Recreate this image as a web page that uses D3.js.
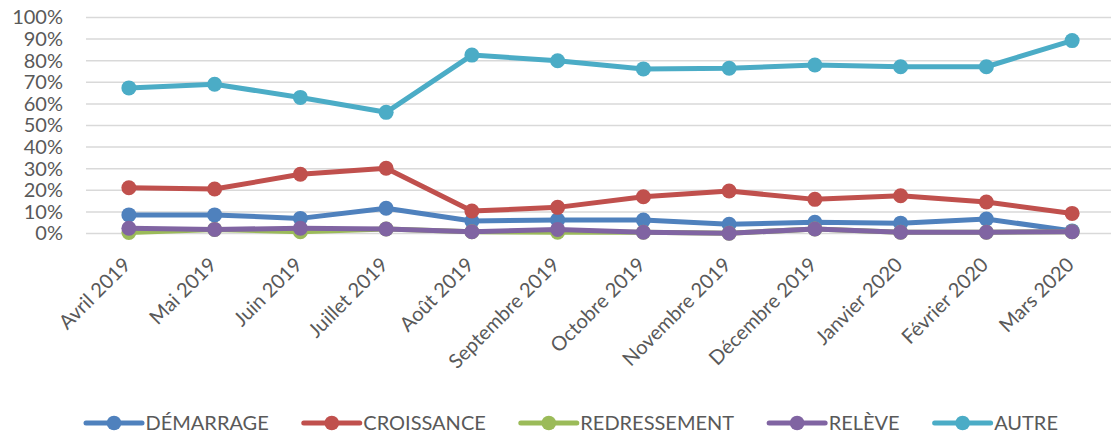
<!DOCTYPE html>
<meta charset="utf-8">
<style>
  body { margin: 0; background: #fff; }
  text { font-family: Lato, "Open Sans", sans-serif; fill: #595959; }
</style>
<body>
<script src="https://d3js.org/d3.v7.min.js"></script>
<script>
    var width = 1111,
        height = 438;

    var months = ["Avril 2019", "Mai 2019", "Juin 2019", "Juillet 2019", "Août 2019", "Septembre 2019",
        "Octobre 2019", "Novembre 2019", "Décembre 2019", "Janvier 2020", "Février 2020", "Mars 2020"];

    var yTicks = [0, 0.1, 0.2, 0.3, 0.4, 0.5, 0.6, 0.7, 0.8, 0.9, 1];

    var seriesNames = ["DÉMARRAGE", "CROISSANCE", "REDRESSEMENT", "RELÈVE", "AUTRE"];
    var seriesColors = ["#4F81BD", "#C0504D", "#9BBB59", "#8064A2", "#4BACC6"];

    var demarrage = [0.086, 0.086, 0.070, 0.117, 0.058, 0.063, 0.062, 0.043, 0.052, 0.048, 0.067, 0.012];
    var croissance = [0.212, 0.206, 0.274, 0.302, 0.104, 0.121, 0.170, 0.197, 0.158, 0.175, 0.146, 0.093];
    var redressement = [0.005, 0.019, 0.008, 0.021, 0.008, 0.006, 0.006, 0.001, 0.021, 0.006, 0.006, 0.008];
    var releve = [0.024, 0.019, 0.024, 0.021, 0.008, 0.019, 0.006, 0.001, 0.021, 0.006, 0.006, 0.008];
    var autre = [0.674, 0.691, 0.630, 0.561, 0.826, 0.800, 0.762, 0.765, 0.780, 0.772, 0.772, 0.893];

    var series = [demarrage, croissance, redressement, releve, autre].map(function (vals, i) {
        return {name: seriesNames[i], color: seriesColors[i], values: vals};
    });

    const svg = d3.select('body')
        .append('svg')
        .attr('width', width)
        .attr('height', height);

    var x = d3.scaleBand()
        .domain(months)
        .range([86, 1115]);

    var y = d3.scaleLinear()
        .domain([0, 1])
        .range([233.5, 17.5]);

    // gridlines
    svg.append('g')
        .selectAll('line')
        .data(yTicks)
        .enter().append('line')
        .attr('x1', 86)
        .attr('x2', 1115)
        .attr('y1', d => y(d))
        .attr('y2', d => y(d))
        .attr('stroke', '#d9d9d9')
        .attr('stroke-width', 1.5);

    // y axis labels
    var yAxis = d3.axisLeft(y)
        .tickValues(yTicks)
        .tickFormat(d3.format('.0%'))
        .tickSize(0)
        .tickPadding(0);

    svg.append('g')
        .attr('transform', 'translate(63,0)')
        .call(yAxis)
        .call(g => g.select('.domain').remove())
        .selectAll('text')
        .style('font-family', 'Lato, sans-serif')
        .style('font-size', '20px')
        .attr('fill', '#595959');

    // x axis labels, rotated
    var xAxis = d3.axisBottom(x)
        .tickSize(0)
        .tickPadding(0);

    var xg = svg.append('g')
        .call(xAxis)
        .call(g => g.select('.domain').remove());
    xg.selectAll('.tick').attr('transform', null);
    xg.selectAll('text')
        .style('font-family', 'Lato, sans-serif')
        .style('font-size', '20px')
        .attr('fill', '#595959')
        .attr('text-anchor', 'end')
        .attr('dy', 0)
        .attr('x', 0)
        .attr('y', 0)
        .attr('transform', d => 'translate(' + (x(d) + x.bandwidth() / 2 + 3) + ',266) rotate(-45)');

    var line = d3.line()
        .x((d, i) => x(months[i]) + x.bandwidth() / 2)
        .y(d => y(d));

    const groups = svg.append('g')
        .selectAll('g')
        .data(series)
        .enter().append('g');

    groups.append('path')
        .attr('d', d => line(d.values))
        .attr('fill', 'none')
        .attr('stroke', d => d.color)
        .attr('stroke-width', 5)
        .attr('stroke-linejoin', 'round');

    groups.selectAll('circle')
        .data(d => d.values.map((v, i) => ({v: v, i: i, color: d.color})))
        .enter().append('circle')
        .attr('cx', d => x(months[d.i]) + x.bandwidth() / 2)
        .attr('cy', d => y(d.v))
        .attr('r', 7.5)
        .attr('fill', d => d.color);

    // legend
    var legend = svg.append('g')
        .attr('transform', 'translate(0,423)');

    var lx = 86;
    series.forEach(function (s) {
        var item = legend.append('g').attr('transform', 'translate(' + lx + ',0)');
        item.append('line')
            .attr('x1', 0).attr('x2', 56)
            .attr('stroke', s.color)
            .attr('stroke-width', 5)
            .attr('stroke-linecap', 'round');
        item.append('circle')
            .attr('cx', 28)
            .attr('r', 7.3)
            .attr('fill', s.color);
        var t = item.append('text')
            .attr('x', 59.5)
            .attr('dy', '0.36em')
            .style('font-size', '20px')
            .text(s.name);
        lx += 59.5 + t.node().getComputedTextLength() + 35;
    });
</script>
</body>
